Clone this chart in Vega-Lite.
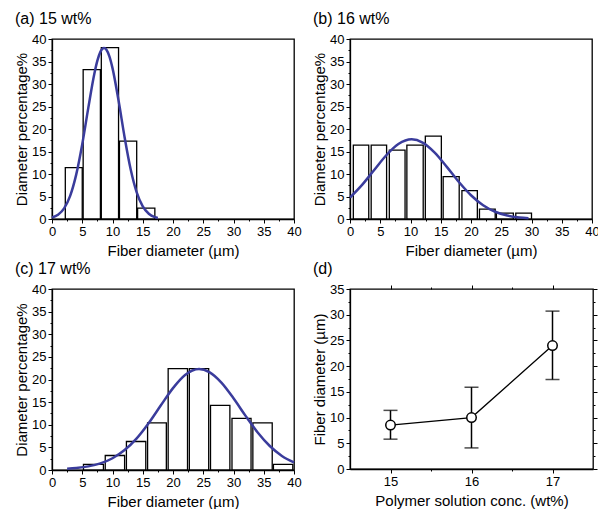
{
  "$schema": "https://vega.github.io/schema/vega-lite/v6.json",
  "padding": {"left": 13, "top": 10, "right": 0, "bottom": 0},
  "background": "white",
  "datasets": {
    "barsA": [
      {"x0": 2.2, "x1": 5.0, "pct": 11.4},
      {"x0": 5.15, "x1": 8.0, "pct": 33.2},
      {"x0": 8.15, "x1": 11.0, "pct": 38.1},
      {"x0": 11.15, "x1": 14.0, "pct": 17.3},
      {"x0": 14.15, "x1": 17.0, "pct": 2.4}
    ],
    "curveA": [
      {"x": 0, "y": 0.34}, {"x": 1, "y": 0.95}, {"x": 2, "y": 2.36}, {"x": 3, "y": 5.14},
      {"x": 4, "y": 9.86}, {"x": 5, "y": 16.63}, {"x": 6, "y": 24.69}, {"x": 7, "y": 32.27},
      {"x": 7.5, "y": 35.18}, {"x": 8, "y": 37.14}, {"x": 8.6, "y": 38.0}, {"x": 9, "y": 37.62},
      {"x": 9.5, "y": 36.09}, {"x": 10, "y": 33.53}, {"x": 11, "y": 26.32}, {"x": 12, "y": 18.18},
      {"x": 13, "y": 11.05}, {"x": 14, "y": 5.92}, {"x": 15, "y": 2.79}, {"x": 16, "y": 1.16},
      {"x": 17, "y": 0.42}, {"x": 17.5, "y": 0.24}
    ],
    "barsB": [
      {"x0": 0.55, "x1": 3.1, "pct": 16.4},
      {"x0": 3.5, "x1": 6.05, "pct": 16.4},
      {"x0": 6.5, "x1": 9.1, "pct": 15.3},
      {"x0": 9.4, "x1": 12.1, "pct": 16.4},
      {"x0": 12.45, "x1": 15.1, "pct": 18.4},
      {"x0": 15.4, "x1": 18.05, "pct": 9.4},
      {"x0": 18.5, "x1": 21.05, "pct": 6.3},
      {"x0": 21.4, "x1": 24.0, "pct": 2.2},
      {"x0": 24.2, "x1": 27.0, "pct": 1.3},
      {"x0": 27.4, "x1": 30.0, "pct": 1.3}
    ],
    "curveB": [
      {"x": 0, "y": 4.77}, {"x": 2, "y": 7.59}, {"x": 4, "y": 10.9}, {"x": 6, "y": 14.17},
      {"x": 8, "y": 16.65}, {"x": 10.2, "y": 17.7}, {"x": 12, "y": 16.99}, {"x": 14, "y": 14.76},
      {"x": 16, "y": 11.59}, {"x": 18, "y": 8.22}, {"x": 20, "y": 5.28}, {"x": 22, "y": 3.06},
      {"x": 24, "y": 1.61}, {"x": 26, "y": 0.76}, {"x": 28, "y": 0.33}, {"x": 29.5, "y": 0.16}
    ],
    "barsC": [
      {"x0": 5.2, "x1": 8.5, "pct": 1.25},
      {"x0": 8.8, "x1": 12.0, "pct": 3.2},
      {"x0": 12.3, "x1": 15.5, "pct": 6.3},
      {"x0": 15.8, "x1": 18.9, "pct": 10.4},
      {"x0": 19.2, "x1": 22.4, "pct": 22.4},
      {"x0": 22.7, "x1": 25.9, "pct": 22.4},
      {"x0": 26.2, "x1": 29.4, "pct": 14.3},
      {"x0": 29.75, "x1": 32.9, "pct": 11.4},
      {"x0": 33.2, "x1": 36.4, "pct": 10.4},
      {"x0": 36.6, "x1": 39.8, "pct": 1.25}
    ],
    "curveC": [
      {"x": 2.5, "y": 0.3}, {"x": 4, "y": 0.45}, {"x": 6, "y": 0.8}, {"x": 8, "y": 1.45},
      {"x": 10, "y": 2.6}, {"x": 12, "y": 4.4}, {"x": 14, "y": 7.0}, {"x": 16, "y": 10.4},
      {"x": 18, "y": 14.3}, {"x": 20, "y": 18.1}, {"x": 22, "y": 21.0}, {"x": 24.3, "y": 22.3},
      {"x": 26, "y": 21.63}, {"x": 28, "y": 19.31}, {"x": 30, "y": 15.85}, {"x": 32, "y": 11.96},
      {"x": 34, "y": 8.3}, {"x": 36, "y": 5.3}, {"x": 38, "y": 3.11}, {"x": 40, "y": 1.67}
    ],
    "summary": [
      {"conc": 15, "mean": 8.55, "lo": 5.8, "hi": 11.4},
      {"conc": 16, "mean": 10.0, "lo": 4.1, "hi": 15.9},
      {"conc": 17, "mean": 24.0, "lo": 17.4, "hi": 30.7}
    ]
  },
  "concat": [
    {
      "width": 242, "height": 180,
      "title": {"text": "(a) 15 wt%", "anchor": "start", "frame": "group", "dx": -37, "offset": -7, "baseline": "alphabetic"},
      "data": {"name": "barsA"},
      "layer": [
        {
          "layer": [
            {
              "mark": {"type": "rect", "fill": "white", "stroke": "black", "strokeWidth": 1.3},
              "encoding": {
                "x": {"field": "x0", "type": "quantitative", "scale": {"domain": [0, 40], "nice": false},
                  "axis": {"title": "Fiber diameter (µm)", "labelOverlap": false, "tickCount": 100, "values": [0, 5, 10, 15, 20, 25, 30, 35, 40], "format": "d", "tickSize": 4}},
                "x2": {"field": "x1"},
                "y": {"field": "pct", "type": "quantitative", "scale": {"domain": [0, 40], "nice": false},
                  "axis": {"title": "Diameter percentage%", "labelOverlap": false, "tickCount": 100, "values": [0, 5, 10, 15, 20, 25, 30, 35, 40], "format": "d", "tickSize": 4}},
                "y2": {"datum": 0}
              }
            },
            {
              "data": {"name": "curveA"},
              "mark": {"type": "line", "color": "#3a3c9c", "strokeWidth": 2.5, "interpolate": "monotone"},
              "encoding": {
                "x": {"field": "x", "type": "quantitative"},
                "y": {"field": "y", "type": "quantitative"}
              }
            }
          ]
        },
        {
          "mark": {"type": "point", "opacity": 0},
          "encoding": {
            "x": {"field": "x0", "type": "quantitative", "scale": {"domain": [0, 40], "nice": false},
              "axis": {"orient": "bottom", "title": null, "labels": false, "domain": false, "tickCount": 100, "values": [2.5, 7.5, 12.5, 17.5, 22.5, 27.5, 32.5, 37.5], "tickSize": 2}},
            "y": {"field": "pct", "type": "quantitative", "scale": {"domain": [0, 40], "nice": false},
              "axis": {"orient": "left", "title": null, "labels": false, "domain": false, "tickCount": 100, "values": [2.5, 7.5, 12.5, 17.5, 22.5, 27.5, 32.5, 37.5], "tickSize": 2}}
          }
        }
      ],
      "resolve": {"axis": {"x": "independent", "y": "independent"}}
    },
    {
      "width": 242, "height": 180,
      "title": {"text": "(b) 16 wt%", "anchor": "start", "frame": "group", "dx": -37, "offset": -7, "baseline": "alphabetic"},
      "data": {"name": "barsB"},
      "layer": [
        {
          "layer": [
            {
              "mark": {"type": "rect", "fill": "white", "stroke": "black", "strokeWidth": 1.3},
              "encoding": {
                "x": {"field": "x0", "type": "quantitative", "scale": {"domain": [0, 40], "nice": false},
                  "axis": {"title": "Fiber diameter (µm)", "labelOverlap": false, "tickCount": 100, "values": [0, 5, 10, 15, 20, 25, 30, 35, 40], "format": "d", "tickSize": 4}},
                "x2": {"field": "x1"},
                "y": {"field": "pct", "type": "quantitative", "scale": {"domain": [0, 40], "nice": false},
                  "axis": {"title": "Diameter percentage%", "labelOverlap": false, "tickCount": 100, "values": [0, 5, 10, 15, 20, 25, 30, 35, 40], "format": "d", "tickSize": 4}},
                "y2": {"datum": 0}
              }
            },
            {
              "data": {"name": "curveB"},
              "mark": {"type": "line", "color": "#3a3c9c", "strokeWidth": 2.5, "interpolate": "monotone"},
              "encoding": {
                "x": {"field": "x", "type": "quantitative"},
                "y": {"field": "y", "type": "quantitative"}
              }
            }
          ]
        },
        {
          "mark": {"type": "point", "opacity": 0},
          "encoding": {
            "x": {"field": "x0", "type": "quantitative", "scale": {"domain": [0, 40], "nice": false},
              "axis": {"orient": "bottom", "title": null, "labels": false, "domain": false, "tickCount": 100, "values": [2.5, 7.5, 12.5, 17.5, 22.5, 27.5, 32.5, 37.5], "tickSize": 2}},
            "y": {"field": "pct", "type": "quantitative", "scale": {"domain": [0, 40], "nice": false},
              "axis": {"orient": "left", "title": null, "labels": false, "domain": false, "tickCount": 100, "values": [2.5, 7.5, 12.5, 17.5, 22.5, 27.5, 32.5, 37.5], "tickSize": 2}}
          }
        }
      ],
      "resolve": {"axis": {"x": "independent", "y": "independent"}}
    },
    {
      "width": 242, "height": 181,
      "title": {"text": "(c) 17 wt%", "anchor": "start", "frame": "group", "dx": -37, "offset": -7, "baseline": "alphabetic"},
      "data": {"name": "barsC"},
      "layer": [
        {
          "layer": [
            {
              "mark": {"type": "rect", "fill": "white", "stroke": "black", "strokeWidth": 1.3},
              "encoding": {
                "x": {"field": "x0", "type": "quantitative", "scale": {"domain": [0, 40], "nice": false},
                  "axis": {"title": "Fiber diameter (µm)", "labelOverlap": false, "tickCount": 100, "values": [0, 5, 10, 15, 20, 25, 30, 35, 40], "format": "d", "tickSize": 4}},
                "x2": {"field": "x1"},
                "y": {"field": "pct", "type": "quantitative", "scale": {"domain": [0, 40], "nice": false},
                  "axis": {"title": "Diameter percentage%", "labelOverlap": false, "tickCount": 100, "values": [0, 5, 10, 15, 20, 25, 30, 35, 40], "format": "d", "tickSize": 4}},
                "y2": {"datum": 0}
              }
            },
            {
              "data": {"name": "curveC"},
              "mark": {"type": "line", "color": "#3a3c9c", "strokeWidth": 2.5, "interpolate": "monotone"},
              "encoding": {
                "x": {"field": "x", "type": "quantitative"},
                "y": {"field": "y", "type": "quantitative"}
              }
            }
          ]
        },
        {
          "mark": {"type": "point", "opacity": 0},
          "encoding": {
            "x": {"field": "x0", "type": "quantitative", "scale": {"domain": [0, 40], "nice": false},
              "axis": {"orient": "bottom", "title": null, "labels": false, "domain": false, "tickCount": 100, "values": [2.5, 7.5, 12.5, 17.5, 22.5, 27.5, 32.5, 37.5], "tickSize": 2}},
            "y": {"field": "pct", "type": "quantitative", "scale": {"domain": [0, 40], "nice": false},
              "axis": {"orient": "left", "title": null, "labels": false, "domain": false, "tickCount": 100, "values": [2.5, 7.5, 12.5, 17.5, 22.5, 27.5, 32.5, 37.5], "tickSize": 2}}
          }
        }
      ],
      "resolve": {"axis": {"x": "independent", "y": "independent"}}
    },
    {
      "width": 243, "height": 180,
      "title": {"text": "(d)", "anchor": "start", "frame": "group", "dx": -37, "offset": -7, "baseline": "alphabetic"},
      "data": {"name": "summary"},
      "layer": [
        {
          "layer": [
            {
              "mark": {"type": "rule", "color": "black", "strokeWidth": 1.5},
              "encoding": {
                "x": {"field": "conc", "type": "quantitative", "scale": {"domain": [14.5, 17.5], "nice": false},
                  "axis": {"title": "Polymer solution conc. (wt%)", "labelOverlap": false, "tickCount": 100, "values": [15, 16, 17], "format": "d", "tickSize": 4}},
                "y": {"field": "lo", "type": "quantitative", "scale": {"domain": [0, 35], "nice": false},
                  "axis": {"title": "Fiber diameter (µm)", "labelOverlap": false, "tickCount": 100, "values": [0, 5, 10, 15, 20, 25, 30, 35], "format": "d", "tickSize": 4}},
                "y2": {"field": "hi"}
              }
            },
            {
              "mark": {"type": "tick", "orient": "horizontal", "color": "black", "size": 14, "thickness": 1.5},
              "encoding": {
                "x": {"field": "conc", "type": "quantitative"},
                "y": {"field": "lo", "type": "quantitative"}
              }
            },
            {
              "mark": {"type": "tick", "orient": "horizontal", "color": "black", "size": 14, "thickness": 1.5},
              "encoding": {
                "x": {"field": "conc", "type": "quantitative"},
                "y": {"field": "hi", "type": "quantitative"}
              }
            },
            {
              "mark": {"type": "line", "color": "black", "strokeWidth": 1.3},
              "encoding": {
                "x": {"field": "conc", "type": "quantitative"},
                "y": {"field": "mean", "type": "quantitative"}
              }
            },
            {
              "mark": {"type": "point", "shape": "circle", "filled": false, "fill": "white", "fillOpacity": 1, "stroke": "black", "strokeWidth": 1.5, "size": 90, "opacity": 1},
              "encoding": {
                "x": {"field": "conc", "type": "quantitative"},
                "y": {"field": "mean", "type": "quantitative"}
              }
            }
          ]
        },
        {
          "mark": {"type": "point", "opacity": 0},
          "encoding": {
            "x": {"field": "conc", "type": "quantitative", "scale": {"domain": [14.5, 17.5], "nice": false},
              "axis": {"orient": "bottom", "title": null, "labels": false, "domain": false, "tickCount": 100, "values": [15.5, 16.5], "tickSize": 2}},
            "y": {"field": "mean", "type": "quantitative", "scale": {"domain": [0, 35], "nice": false},
              "axis": {"orient": "left", "title": null, "labels": false, "domain": false, "tickCount": 100, "values": [2.5, 7.5, 12.5, 17.5, 22.5, 27.5, 32.5], "tickSize": 2}}
          }
        },
        {
          "mark": {"type": "point", "opacity": 0},
          "encoding": {
            "x": {"field": "conc", "type": "quantitative", "scale": {"domain": [14.5, 17.5], "nice": false},
              "axis": {"orient": "top", "title": null, "labels": false, "domain": false, "tickCount": 100, "values": [15, 16, 17], "tickSize": 4}},
            "y": {"field": "mean", "type": "quantitative", "scale": {"domain": [0, 35], "nice": false},
              "axis": {"orient": "right", "title": null, "labels": false, "domain": false, "tickCount": 100, "values": [0, 5, 10, 15, 20, 25, 30, 35], "tickSize": 4}}
          }
        },
        {
          "mark": {"type": "point", "opacity": 0},
          "encoding": {
            "x": {"field": "conc", "type": "quantitative", "scale": {"domain": [14.5, 17.5], "nice": false},
              "axis": {"orient": "top", "title": null, "labels": false, "domain": false, "tickCount": 100, "values": [15.5, 16.5], "tickSize": 2}},
            "y": {"field": "mean", "type": "quantitative", "scale": {"domain": [0, 35], "nice": false},
              "axis": {"orient": "right", "title": null, "labels": false, "domain": false, "tickCount": 100, "values": [2.5, 7.5, 12.5, 17.5, 22.5, 27.5, 32.5], "tickSize": 2}}
          }
        }
      ],
      "resolve": {"axis": {"x": "independent", "y": "independent"}}
    }
  ],
  "columns": 2,
  "spacing": {"row": 70, "column": 56},
  "bounds": "flush",
  "config": {
    "font": "Liberation Sans",
    "view": {"stroke": "black", "strokeWidth": 1.3},
    "axis": {
      "labelFont": "Liberation Sans", "labelFontSize": 13, "labelColor": "black", "labelPadding": 2,
      "titleFont": "Liberation Sans", "titleFontSize": 15, "titleFontWeight": "normal", "titleColor": "black",
      "domainColor": "black", "domainWidth": 1.3, "tickColor": "black", "tickWidth": 1,
      "grid": false, "labelOverlap": false, "labelFlush": false
    },
    "axisX": {"titlePadding": 5},
    "axisY": {"titlePadding": 2},
    "title": {"font": "Liberation Sans", "fontSize": 16, "fontWeight": "normal", "color": "black", "anchor": "start"}
  }
}
